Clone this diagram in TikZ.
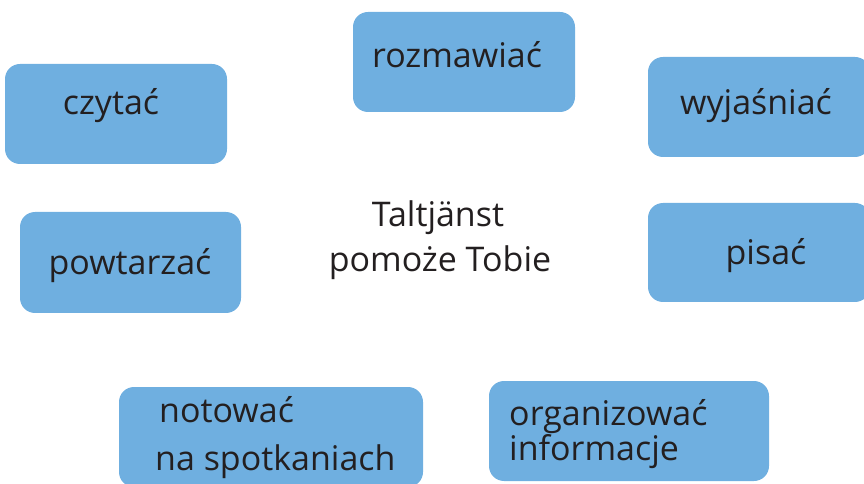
\documentclass[tikz,border=0pt]{standalone}
\usepackage{fontspec}
\setmainfont{Open Sans}
\usepackage{tikz}

\definecolor{boxblue}{RGB}{111,175,224}
\definecolor{inkblack}{RGB}{35,31,32}
\def\u{0.03cm}

\tikzset{
  box/.style={shape=rectangle,rounded corners=15*\u,fill=boxblue,draw=none,
    minimum width=222*\u,minimum height=100*\u,inner sep=0pt},
  word/.style={text=inkblack,inner sep=0pt,font=\fontsize{29}{34}\selectfont},
}

\begin{document}
\begin{tikzpicture}[x=\u,y=-\u]
        \useasboundingbox (0,0) rectangle (864,484);

        \node[box] (czytac) at (116,114) {};
        \node[box] (rozmawiac) at (464,62) {};
        \node[box] (wyjasniac) at (759,107) {};
        \node[box,minimum width=221*\u,minimum height=101*\u] (powtarzac) at (130.5,262.5) {};
        \node[box,minimum height=99*\u] (pisac) at (759,252.5) {};
        \node[box,minimum width=304*\u] (notowac) at (271,437) {};
        \node[box,minimum width=280*\u] (organizowac) at (629,431) {};

        \node[word,anchor=base] (t-czytac) at (111,115) {czytać};
        \node[word,anchor=base] (t-rozmawiac) at (457,68) {rozmawiać};
        \node[word,anchor=base] (t-wyjasniac) at (756,115) {wyjaśniać};
        \node[word,anchor=base] (t-powtarzac) at (130,275) {powtarzać};
        \node[word,anchor=base] (t-pisac) at (766,265) {pisać};

        \node[word,anchor=base] (t-center1) at (438,227) {Taltjänst};
        \node[word,anchor=base] (t-center2) at (440,272) {pomoże Tobie};

        \node[word,anchor=base west] (t-notowac1) at (159,422) {notować};
        \node[word,anchor=base west] (t-notowac2) at (155,470) {na spotkaniach};
        \node[word,anchor=base west] (t-organizowac1) at (509,425) {organizować};
        \node[word,anchor=base west] (t-organizowac2) at (509,460) {informacje};
\end{tikzpicture}
\end{document}
